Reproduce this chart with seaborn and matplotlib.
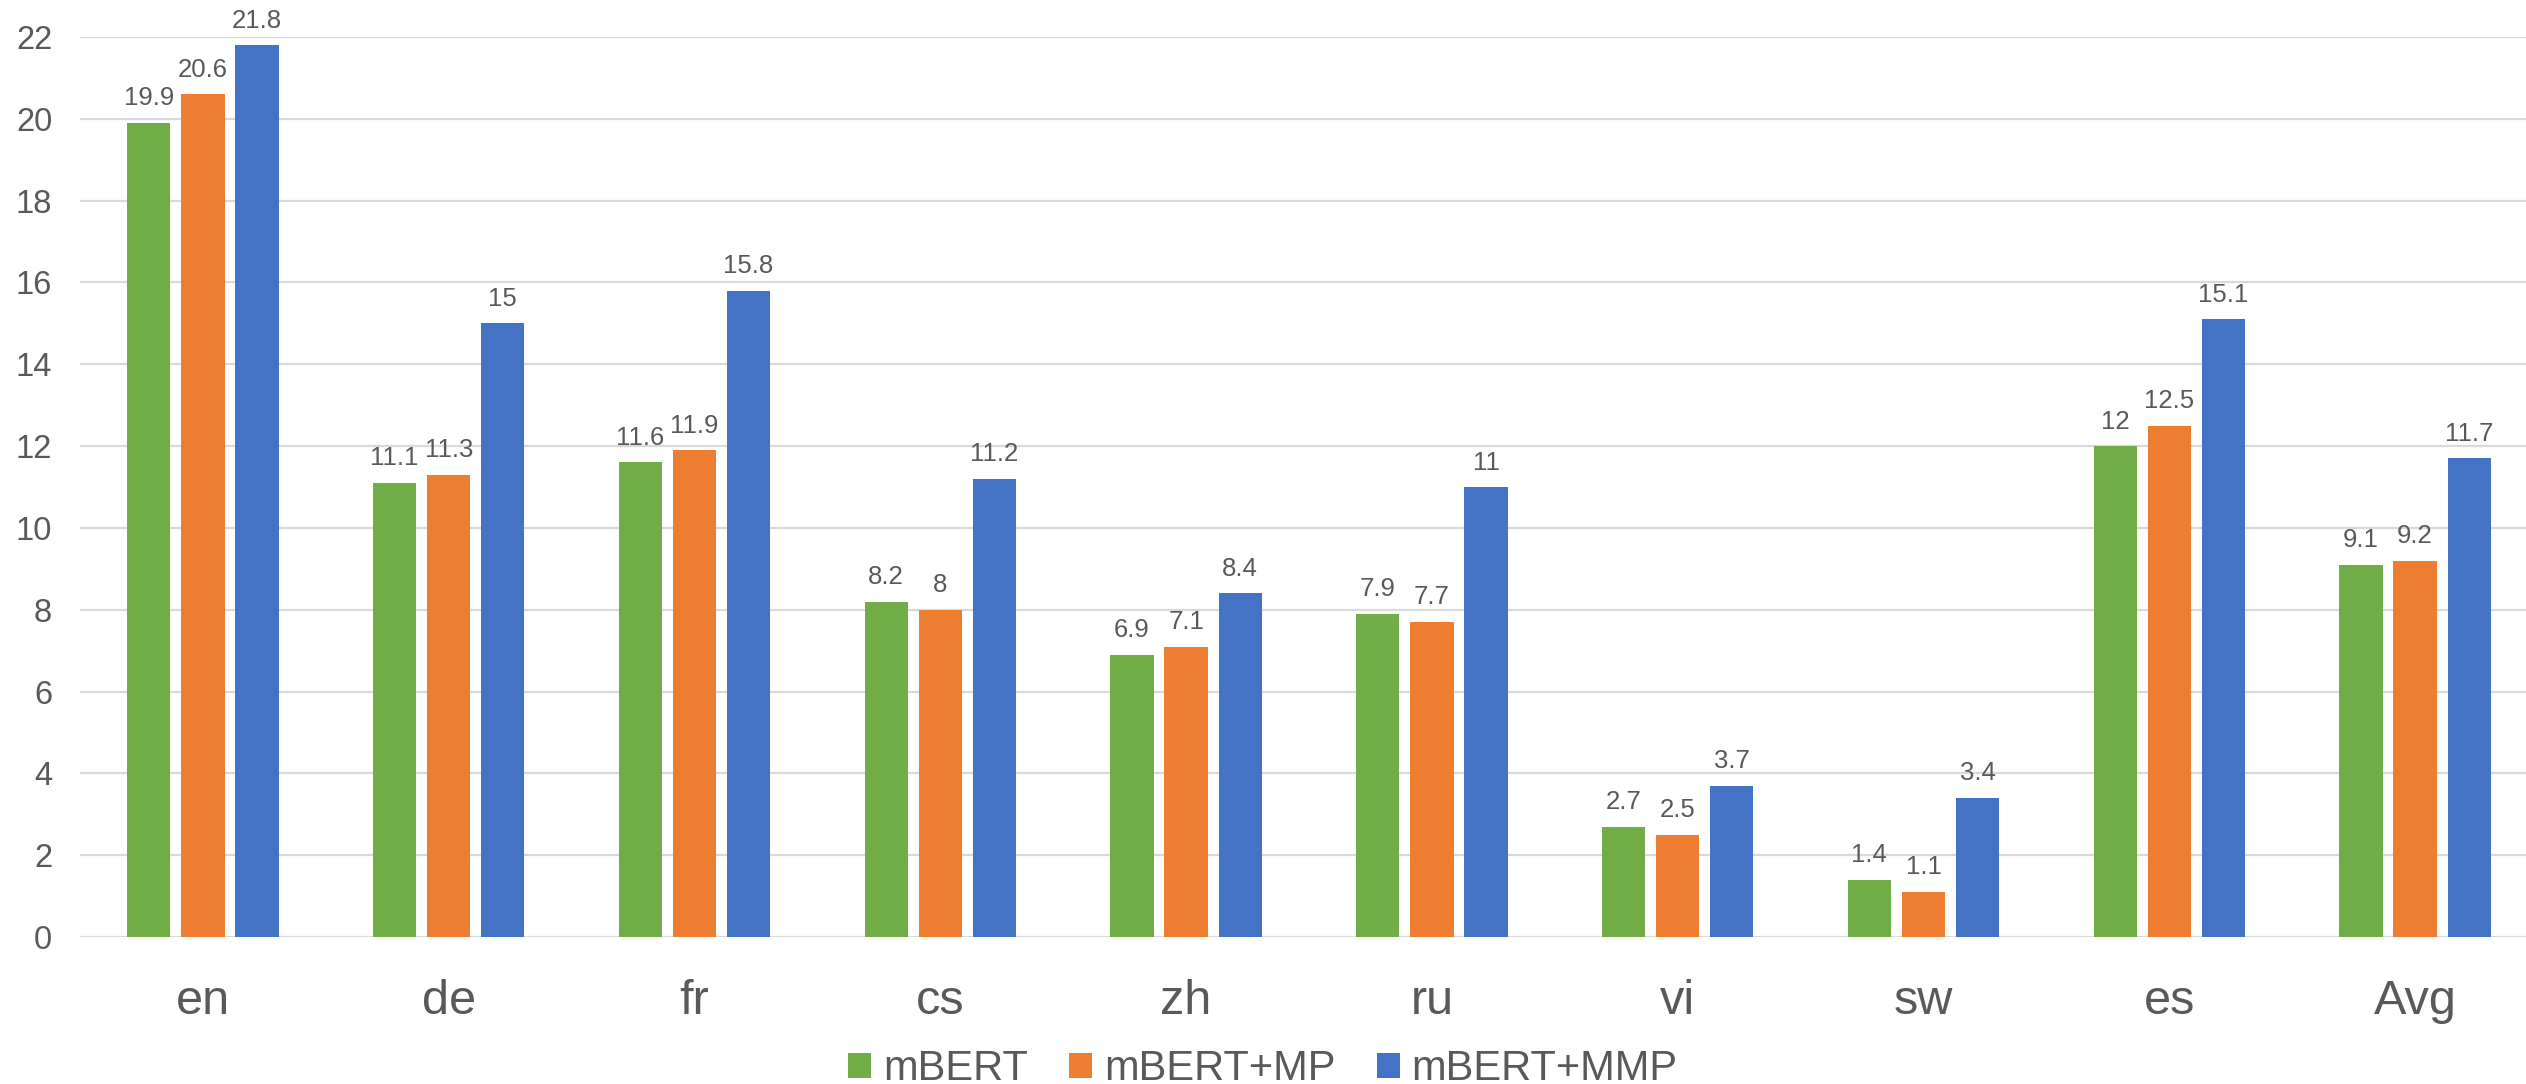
import matplotlib
matplotlib.use("Agg")
import matplotlib.pyplot as plt
import seaborn as sns
import pandas as pd

# Scores per language for each model variant
languages = ["en", "de", "fr", "cs", "zh", "ru", "vi", "sw", "es", "Avg"]
mbert = [19.9, 11.1, 11.6, 8.2, 6.9, 7.9, 2.7, 1.4, 12.0, 9.1]
mbert_mp = [20.6, 11.3, 11.9, 8.0, 7.1, 7.7, 2.5, 1.1, 12.5, 9.2]
mbert_mmp = [21.8, 15.0, 15.8, 11.2, 8.4, 11.0, 3.7, 3.4, 15.1, 11.7]
models = ["mBERT", "mBERT+MP", "mBERT+MMP"]
colors = ["#70AD47", "#ED7D31", "#4472C4"]

rows = []
for model, vals in zip(models, [mbert, mbert_mp, mbert_mmp]):
    for lang, v in zip(languages, vals):
        rows.append({"lang": lang, "model": model, "score": v})
df = pd.DataFrame(rows)

sns.set_style("white")
plt.rcParams["font.family"] = ["Liberation Sans", "DejaVu Sans"]
text_color = "#595959"
grid_color = "#D9D9D9"

W, H = 2526, 1084
fig = plt.figure(figsize=(W / 100, H / 100), dpi=100)
ax = fig.add_axes([80 / W, (H - 937) / H, (2538 - 80) / W, 900 / H])

sns.barplot(data=df, x="lang", y="score", hue="model", order=languages,
            hue_order=models, palette=colors, width=0.66, gap=0.2,
            linewidth=0, saturation=1, ax=ax, legend=True, zorder=3)

ax.set_xlim(-0.5, 9.5)
ax.set_ylim(0, 22)
ax.set_yticks(range(0, 23, 2))
ax.set_xlabel("")
ax.set_ylabel("")
for s in ax.spines.values():
    s.set_visible(False)
ax.yaxis.grid(True, color=grid_color, linewidth=1.6, zorder=0)
ax.set_axisbelow(True)
ax.tick_params(axis="y", length=0, pad=20, labelsize=23.5, labelcolor=text_color)
ax.tick_params(axis="x", length=0, pad=30, labelsize=35, labelcolor=text_color)

for cont in ax.containers:
    ax.bar_label(cont, labels=[f"{v:g}" for v in cont.datavalues],
                 padding=9, fontsize=18.5, color=text_color)

ax.get_legend().remove()
handles, labels = ax.get_legend_handles_labels()
fig.legend(handles, labels, loc="center", bbox_to_anchor=(1263 / W, 1 - 1069 / H),
           ncol=3, frameon=False, fontsize=30, labelcolor=text_color,
           handlelength=0.55, handleheight=0.55, handletextpad=0.28,
           columnspacing=1.0, borderaxespad=0, borderpad=0)

fig.savefig("out.png", dpi=100)
